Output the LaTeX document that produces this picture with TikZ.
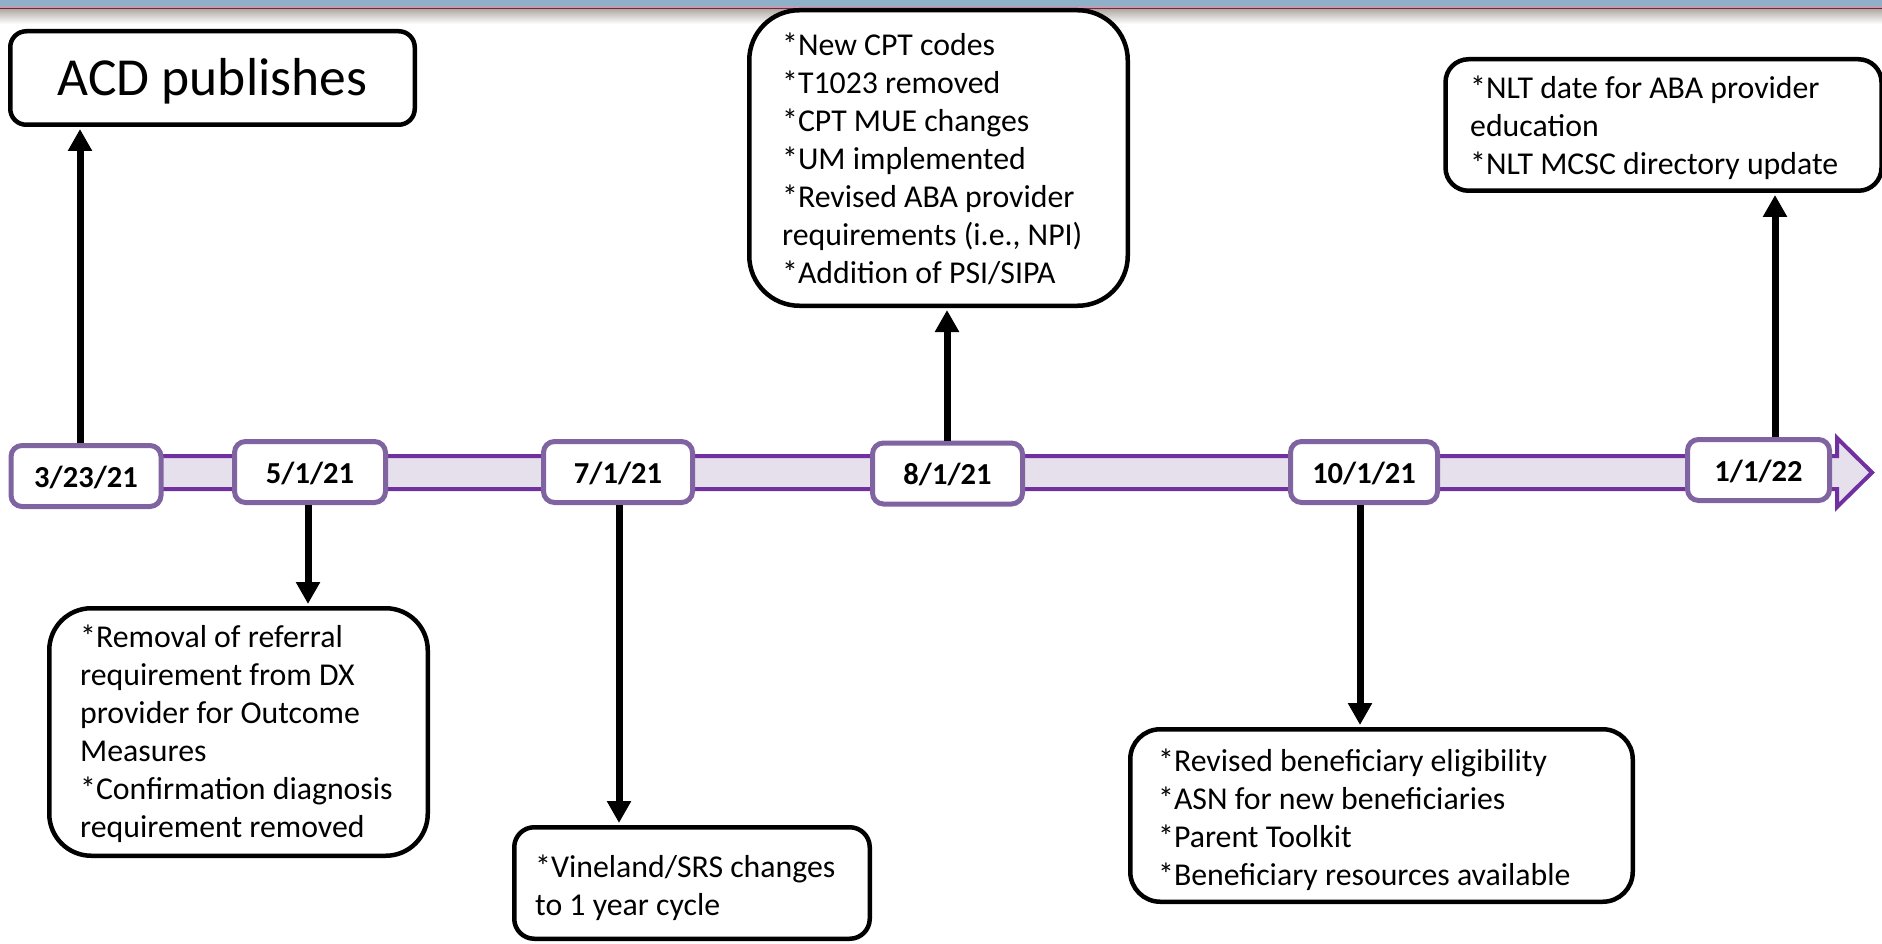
\documentclass[tikz,border=0pt]{standalone}
\usepackage{fontspec}
\setmainfont{Carlito}
\usetikzlibrary{arrows.meta,calc}
\definecolor{bandline}{HTML}{7030A0}
\definecolor{bandfill}{HTML}{E6E0EC}
\definecolor{dateline}{HTML}{8064A2}
\definecolor{topblue}{HTML}{8EB0C9}
\definecolor{toppink}{HTML}{C79AB4}
\definecolor{topdark}{HTML}{6E2A3C}
\definecolor{topgrey}{HTML}{B5B0A8}
\tikzset{
  datebox/.style={draw=dateline, line width=5pt, fill=white, rounded corners=11pt,
    minimum width=#1, minimum height=61pt, inner sep=0pt,
    font=\fontsize{30.5}{36}\selectfont\bfseries, text height=22pt, text depth=0pt},
  notebox/.style={draw=black, line width=4.5pt, fill=white, inner sep=0pt},
  notetext/.style={anchor=north west, align=left, inner sep=0pt,
    font=\fontsize{31.8}{38}\selectfont},
  conn/.style={draw=black, line width=7pt, -{Triangle[width=23pt,length=22pt]}, shorten >=2pt},
}
\begin{document}
\begin{tikzpicture}[x=1pt,y=-1pt]
\useasboundingbox (0,0) rectangle (1882,944);
% top bar
\fill[topblue] (0,0) rectangle (1882,6);
\fill[toppink] (0,6) rectangle (1882,8);
\fill[topdark] (0,8) rectangle (1882,10);
\shade[top color=topgrey, bottom color=white] (0,10) rectangle (1882,24);
% timeline band
\draw[bandline, line width=4pt, fill=bandfill, line join=miter]
  (20,456) -- (1837,456) -- (1837,438) -- (1872,472.5) -- (1837,507) -- (1837,489) -- (20,489) -- cycle;
% coordinates for connector columns
\coordinate (x1) at (80,0);
\coordinate (x2) at (308,0);
\coordinate (x3) at (619,0);
\coordinate (x4) at (947,0);
\coordinate (x5) at (1360,0);
\coordinate (x6) at (1775,0);
% note boxes
\node[notebox, minimum width=404.5pt, minimum height=93.5pt, rounded corners=16pt,
  font=\fontsize{53.5}{60}\selectfont, text height=34.5pt, text depth=0pt] (b1) at (212.5,78) {ACD publishes};
\node[notebox, minimum width=378.5pt, minimum height=247.5pt, rounded corners=42pt] (b2) at (238.5,732) {};
\node[notebox, minimum width=355.5pt, minimum height=111.5pt, rounded corners=20pt] (b3) at (692,883) {};
\node[notebox, minimum width=378.5pt, minimum height=295.5pt, rounded corners=50pt] (b4) at (938.5,158) {};
\node[notebox, minimum width=502.5pt, minimum height=172.5pt, rounded corners=30pt] (b5) at (1381.5,815.5) {};
\node[notebox, minimum width=436pt, minimum height=131.5pt, rounded corners=23pt] (b6) at (1663.5,125) {};
% date boxes
\node[datebox=150pt] (d1) at (86,476) {3/23/21};
\node[datebox=151pt] (d2) at (310,472) {5/1/21};
\node[datebox=149pt] (d3) at (618,472) {7/1/21};
\node[datebox=150pt] (d4) at (947.5,473.5) {8/1/21};
\node[datebox=147pt] (d5) at (1364,472) {10/1/21};
\node[datebox=142pt] (d6) at (1758.5,470) {1/1/22};
% connectors
\draw[conn] (d1.north -| x1) -- (b1.south -| x1);
\draw[conn] (d2.south -| x2) -- (b2.north -| x2);
\draw[conn] (d3.south -| x3) -- (b3.north -| x3);
\draw[conn] (d4.north -| x4) -- (b4.south -| x4);
\draw[conn] (d5.south -| x5) -- (b5.north -| x5);
\draw[conn] (d6.north -| x6) -- (b6.south -| x6);
% texts
\node[notetext] (t2) at (80,625) {*Removal of referral\\requirement from DX\\provider for Outcome\\Measures\\*Confirmation diagnosis\\requirement removed};
\node[notetext] (t3) at (535,855) {*Vineland/SRS changes\\to 1 year cycle};
\node[notetext] (t4) at (782,33) {*New CPT codes\\*T1023 removed\\*CPT MUE changes\\*UM implemented\\*Revised ABA provider\\requirements (i.e., NPI)\\*Addition of PSI/SIPA};
\node[notetext] (t5) at (1158,749) {*Revised beneficiary eligibility\\*ASN for new beneficiaries\\*Parent Toolkit\\*Beneficiary resources available};
\node[notetext] (t6) at (1470,76) {*NLT date for ABA provider\\education\\*NLT MCSC directory update};
\end{tikzpicture}
\end{document}
